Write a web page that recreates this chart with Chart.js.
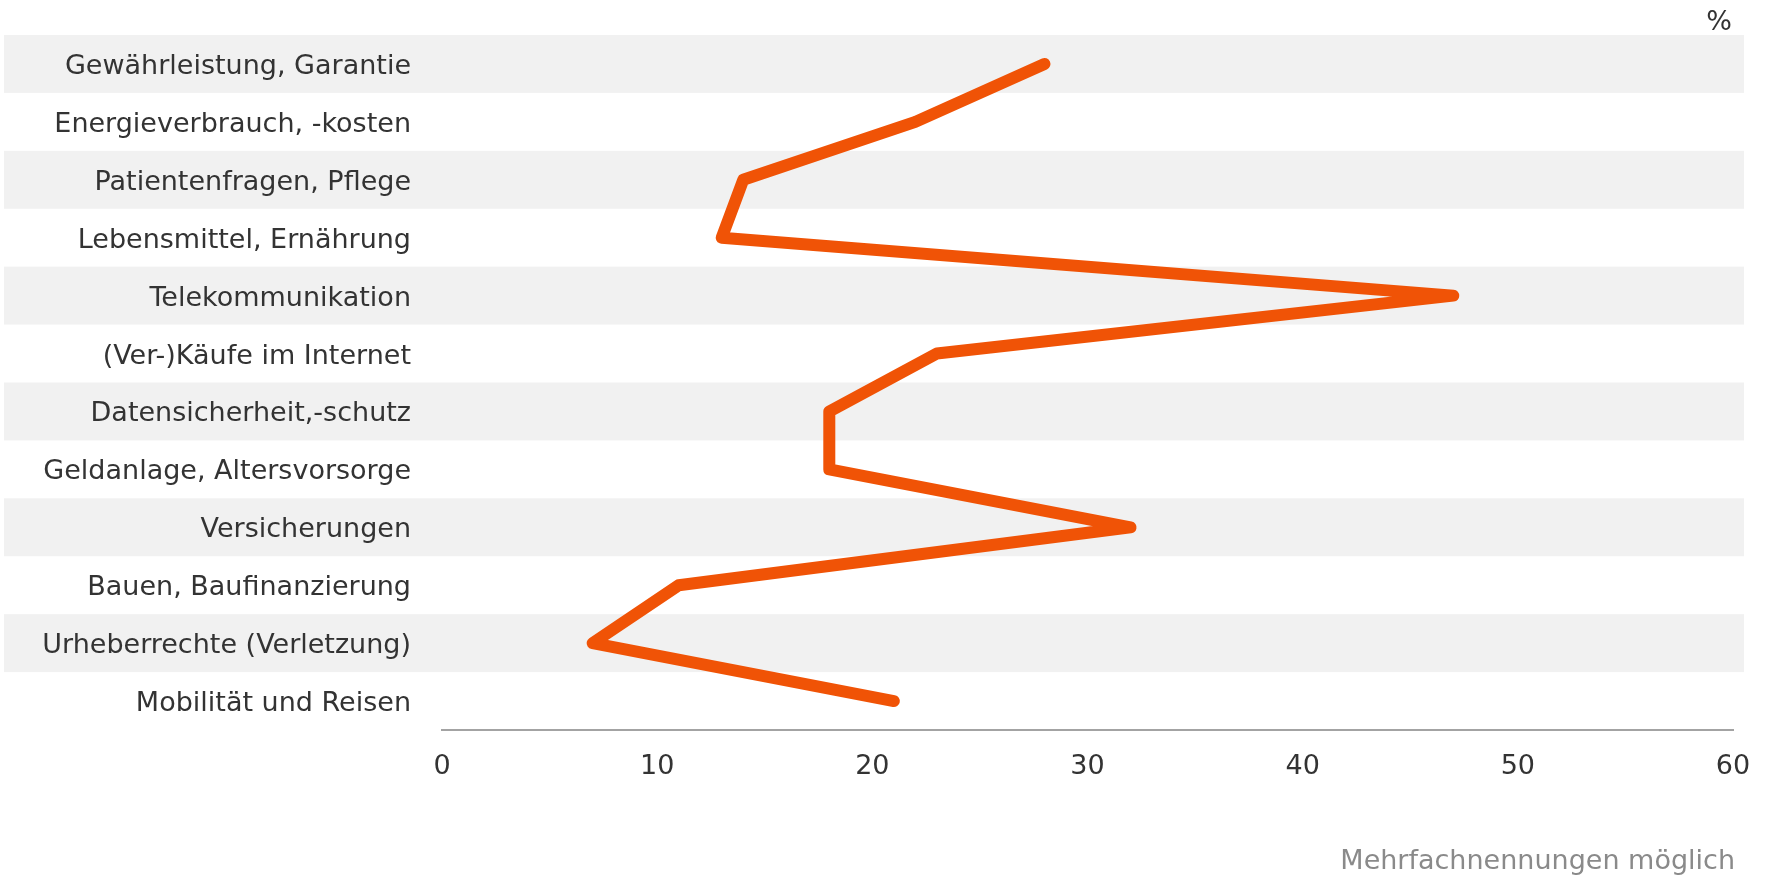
<!DOCTYPE html>
<html>
<head>
<meta charset="utf-8">
<script src="https://cdn.jsdelivr.net/npm/chart.js@4"></script>
<style>
  html, body { margin: 0; padding: 0; background: #fff; }
  #wrap { width: 1767px; height: 878px; }
</style>
</head>
<body>
<div id="wrap"><canvas id="mycanvas"></canvas></div>
<script>
var topics = [
  "Gewährleistung, Garantie",
  "Energieverbrauch, -kosten",
  "Patientenfragen, Pflege",
  "Lebensmittel, Ernährung",
  "Telekommunikation",
  "(Ver-)Käufe im Internet",
  "Datensicherheit,-schutz",
  "Geldanlage, Altersvorsorge",
  "Versicherungen",
  "Bauen, Baufinanzierung",
  "Urheberrechte (Verletzung)",
  "Mobilität und Reisen"
];
var shares = [28, 22, 14, 13, 47, 23, 18, 18, 32, 11, 7, 21];
var xTicks = [0, 10, 20, 30, 40, 50, 60];
var unitLabel = "%";
var footnote = "Mehrfachnennungen möglich";

var font = "'DejaVu Sans', Verdana, sans-serif";

// grey stripes behind every other row, drawn before the axes so labels stay on top
var stripes = {
  id: 'stripes',
  beforeDraw: function(chart) {
    var ctx = chart.ctx;
    var y = chart.scales.y;
    var step = Math.abs(y.getPixelForValue(1) - y.getPixelForValue(0));
    ctx.save();
    ctx.fillStyle = '#f1f1f1';
    for (var i = 0; i < topics.length; i += 2) {
      var c = y.getPixelForValue(i);
      ctx.fillRect(4, c - step / 2, 1740, step);
    }
    ctx.restore();
  }
};

// "%" top right and the note bottom right
var notes = {
  id: 'notes',
  afterDraw: function(chart) {
    var ctx = chart.ctx;
    var right = chart.chartArea.right;
    ctx.save();
    ctx.font = '27px ' + font;
    ctx.textAlign = 'right';
    ctx.textBaseline = 'middle';
    ctx.fillStyle = '#333';
    ctx.fillText(unitLabel, right - 1, 23);
    ctx.fillStyle = '#8a8a8a';
    ctx.fillText(footnote, right + 2, 862);
    ctx.restore();
  }
};

var chartdata = {
  labels: topics,
  datasets: [
    {
      label: "Anteil",
      data: shares,
      fill: false,
      tension: 0,
      borderColor: "#f05306",
      backgroundColor: "#f05306",
      borderWidth: 12,
      borderCapStyle: 'round',
      borderJoinStyle: 'round',
      pointRadius: 0,
      pointHoverRadius: 0
    }
  ]
};

var ctx = document.getElementById('mycanvas');
var LineGraph = new Chart(ctx, {
  type: 'line',
  data: chartdata,
  plugins: [stripes, notes],
  options: {
    indexAxis: 'y',
    responsive: true,
    maintainAspectRatio: false,
    animation: false,
    layout: { padding: { left: 0, right: 34, top: 35, bottom: 0 } },
    plugins: {
      legend: { display: false },
      tooltip: { enabled: false }
    },
    scales: {
      y: {
        type: 'category',
        offset: true,
        grid: { display: false, drawTicks: false },
        border: { display: false },
        ticks: {
          color: '#333',
          padding: 31,
          labelOffset: 3,
          autoSkip: false,
          font: { family: font, size: 27 }
        },
        afterFit: function(scale) {
          scale.width = 442;
          scale.paddingTop = 0;
          scale.paddingBottom = 0;
        }
      },
      x: {
        type: 'linear',
        min: 0,
        max: 60,
        afterBuildTicks: function(scale) {
          scale.ticks = xTicks.map(function(v) { return { value: v }; });
        },
        grid: { display: false, drawTicks: false },
        border: { display: true, color: '#a3a3a3', width: 2 },
        ticks: {
          color: '#333',
          padding: 21,
          maxRotation: 0,
          autoSkip: false,
          font: { family: font, size: 27 }
        },
        afterFit: function(scale) {
          scale.height = 148;
          scale.paddingLeft = 0;
          scale.paddingRight = 0;
        }
      }
    }
  }
});
</script>
</body>
</html>
